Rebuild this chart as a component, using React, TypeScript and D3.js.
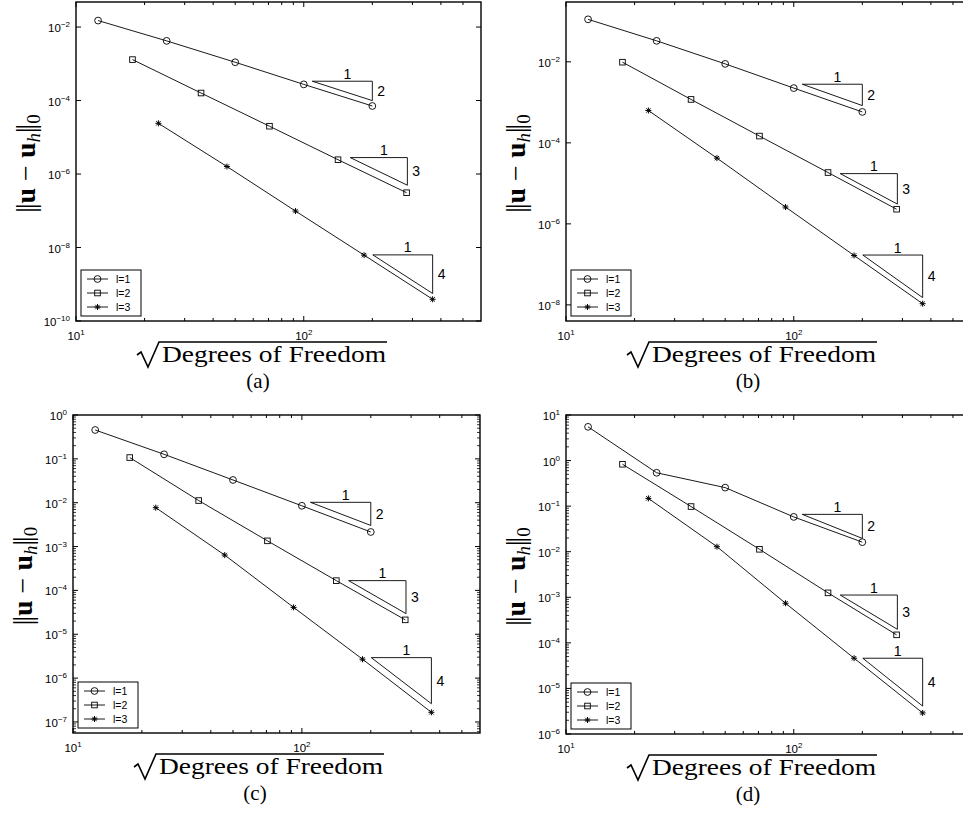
import React from 'react';
import * as d3 from 'd3';

// sqrt(DOF) values per polynomial degree
const xL1 = [12.5, 25, 50, 100, 200];
const xL2 = [17.7, 35.4, 70.7, 141.4, 282.8];
const xL3 = [23, 46, 92, 184, 368];

// error values, panel (a)
const errA1 = [1.5e-2, 4.2e-3, 1.1e-3, 2.75e-4, 7.1e-5];
const errA2 = [1.3e-3, 1.6e-4, 2.0e-5, 2.45e-6, 3.1e-7];
const errA3 = [2.4e-5, 1.6e-6, 9.8e-8, 6.2e-9, 3.9e-10];
// panel (b)
const errB1 = [1.12e-1, 3.3e-2, 8.9e-3, 2.25e-3, 5.8e-4];
const errB2 = [9.8e-3, 1.18e-3, 1.47e-4, 1.85e-5, 2.3e-6];
const errB3 = [6.3e-4, 4.2e-5, 2.6e-6, 1.66e-7, 1.07e-8];
// panel (c)
const errC1 = [0.455, 0.127, 0.033, 8.5e-3, 2.15e-3];
const errC2 = [0.107, 1.12e-2, 1.35e-3, 1.67e-4, 2.13e-5];
const errC3 = [7.7e-3, 6.4e-4, 4.1e-5, 2.7e-6, 1.66e-7];
// panel (d)
const errD1 = [5.5, 0.54, 0.255, 0.058, 0.0162];
const errD2 = [0.83, 0.098, 0.0113, 1.25e-3, 1.5e-4];
const errD3 = [0.148, 0.0129, 7.4e-4, 4.6e-5, 2.9e-6];

const legendLabels = ['l=1', 'l=2', 'l=3'];
const panelLabels = ['(a)', '(b)', '(c)', '(d)'];

// rate triangles
const rateOrders = [2, 3, 4];
const triX0 = [109, 160, 201];
const triX1 = [200, 285, 368];
const triYA = [3.35e-4, 2.8e-6, 6.3e-9];
const triYB = [2.8e-3, 1.74e-5, 1.7e-7];
const triYC = [1.02e-2, 1.67e-4, 2.93e-6];
const triYD = [0.066, 1.12e-3, 4.6e-5];

// axes
const xDomain = [10, 600];
const xMajorTicks = [10, 100];
const xMinorTicks = [20, 30, 40, 50, 60, 70, 80, 90, 200, 300, 400, 500];
const yDomA = [1e-10, 0.048];
const yDomB = [4e-9, 0.30];
const yDomC = [5.6e-8, 1];
const yDomD = [1e-6, 10];
const yTicksA = [1e-10, 1e-8, 1e-6, 1e-4, 1e-2];
const yTicksB = [1e-8, 1e-6, 1e-4, 1e-2];
const yTicksC = [1e-7, 1e-6, 1e-5, 1e-4, 1e-3, 1e-2, 1e-1, 1];
const yTicksD = [1e-6, 1e-5, 1e-4, 1e-3, 1e-2, 1e-1, 1, 10];

const xSeries = [xL1, xL2, xL3];

const panels = [
  { left: 76, top: 2, width: 405, height: 319, minorY: false, yDom: yDomA, yTicks: yTicksA, errs: [errA1, errA2, errA3], triY: triYA },
  { left: 566, top: 2, width: 405, height: 319, minorY: false, yDom: yDomB, yTicks: yTicksB, errs: [errB1, errB2, errB3], triY: triYB },
  { left: 73, top: 415, width: 407, height: 318, minorY: true, yDom: yDomC, yTicks: yTicksC, errs: [errC1, errC2, errC3], triY: triYC },
  { left: 566, top: 415, width: 405, height: 319, minorY: true, yDom: yDomD, yTicks: yTicksD, errs: [errD1, errD2, errD3], triY: triYD },
];

const SANS = "'Liberation Sans', Arial, Helvetica, sans-serif";
const SERIF = "'Liberation Serif', 'Times New Roman', 'DejaVu Serif', serif";

function Marker({ type, x, y }: { type: number; x: number; y: number }) {
  if (type === 0) return <circle cx={x} cy={y} r={3.4} fill="none" stroke="#000" strokeWidth={0.9} />;
  if (type === 1) return <rect x={x - 2.8} y={y - 2.8} width={5.6} height={5.6} fill="none" stroke="#000" strokeWidth={0.9} />;
  const s = 3;
  const d = 2.2;
  return (
    <g stroke="#000" strokeWidth={1}>
      <line x1={x - s} y1={y} x2={x + s} y2={y} />
      <line x1={x} y1={y - s} x2={x} y2={y + s} />
      <line x1={x - d} y1={y - d} x2={x + d} y2={y + d} />
      <line x1={x - d} y1={y + d} x2={x + d} y2={y - d} />
    </g>
  );
}

function Panel({ p, idx }: { p: any; idx: number }) {
  const { left, top, width, height } = p;
  const bottom = top + height;
  const right = left + width;
  const x = d3.scaleLog().domain(xDomain).range([left, right]);
  const y = d3.scaleLog().domain(p.yDom).range([bottom, top]);
  const line = d3.line<[number, number]>().x((d) => x(d[0])).y((d) => y(d[1]));

  const minorY: number[] = [];
  if (p.minorY) {
    const lo = Math.floor(Math.log10(p.yDom[0]));
    const hi = Math.ceil(Math.log10(p.yDom[1]));
    for (let n = lo; n < hi; n++) {
      for (let k = 2; k <= 9; k++) {
        const v = k * Math.pow(10, n);
        if (v > p.yDom[0] && v < p.yDom[1]) minorY.push(v);
      }
    }
  }
  const majL = 5;
  const minL = 3;

  return (
    <g>
      {/* series */}
      {p.errs.map((e: number[], si: number) => {
        const pts = xSeries[si].map((xv, i) => [xv, e[i]] as [number, number]);
        return (
          <g key={si}>
            <path d={line(pts) || ''} fill="none" stroke="#000" strokeWidth={0.9} />
            {pts.map((d, i) => (
              <Marker key={i} type={si} x={x(d[0])} y={y(d[1])} />
            ))}
          </g>
        );
      })}
      {/* triangles */}
      {rateOrders.map((ord, ti) => {
        const x0 = triX0[ti];
        const x1 = triX1[ti];
        const y0 = p.triY[ti];
        const y1 = y0 * Math.pow(x0 / x1, ord);
        const px0 = x(x0), px1 = x(x1), py0 = y(y0), py1 = y(y1);
        return (
          <g key={ti}>
            <path d={`M${px0},${py0}H${px1}V${py1}Z`} fill="none" stroke="#000" strokeWidth={0.9} />
            <text x={(px0 + px1) / 2 + 5} y={py0 - 2.5} fontFamily={SANS} fontSize={14} textAnchor="middle">1</text>
            <text x={px1 + 5} y={(py0 + py1) / 2 + 5} fontFamily={SANS} fontSize={14}>{ord}</text>
          </g>
        );
      })}
      {/* axes box */}
      <rect x={left} y={top} width={width} height={height} fill="none" stroke="#000" strokeWidth={1.4} />
      {/* x ticks */}
      {xMajorTicks.map((v) => (
        <g key={'xM' + v}>
          <line x1={x(v)} x2={x(v)} y1={bottom} y2={bottom - majL} stroke="#000" />
          <line x1={x(v)} x2={x(v)} y1={top} y2={top + majL} stroke="#000" />
          <text x={x(v)} y={bottom + 19} fontFamily={SANS} fontSize={11.5} textAnchor="middle">
            10<tspan dy={-5} fontSize={8}>{Math.round(Math.log10(v))}</tspan>
          </text>
        </g>
      ))}
      {xMinorTicks.map((v) => (
        <g key={'xm' + v}>
          <line x1={x(v)} x2={x(v)} y1={bottom} y2={bottom - minL} stroke="#000" />
          <line x1={x(v)} x2={x(v)} y1={top} y2={top + minL} stroke="#000" />
        </g>
      ))}
      {/* y ticks */}
      {p.yTicks.map((v: number) => {
        const e = Math.round(Math.log10(v));
        return (
          <g key={'yM' + v}>
            <line x1={left} x2={left + majL} y1={y(v)} y2={y(v)} stroke="#000" />
            <line x1={right} x2={right - majL} y1={y(v)} y2={y(v)} stroke="#000" />
            <text x={left - 6} y={y(v) + 5} fontFamily={SANS} fontSize={11.5} textAnchor="end">
              10<tspan dy={-5} fontSize={8}>{e < 0 ? '\u2212' + Math.abs(e) : String(e)}</tspan>
            </text>
          </g>
        );
      })}
      {minorY.map((v) => (
        <g key={'ym' + v}>
          <line x1={left} x2={left + minL} y1={y(v)} y2={y(v)} stroke="#000" strokeWidth={0.8} />
          <line x1={right} x2={right - minL} y1={y(v)} y2={y(v)} stroke="#000" strokeWidth={0.8} />
        </g>
      ))}
      {/* legend */}
      <g>
        <rect x={left + 5} y={bottom - 51} width={60} height={46} fill="#fff" stroke="#000" strokeWidth={1} />
        {legendLabels.map((lab, i) => {
          const ly = bottom - 42 + i * 14;
          return (
            <g key={lab}>
              <line x1={left + 11} x2={left + 32} y1={ly} y2={ly} stroke="#000" strokeWidth={0.9} />
              <Marker type={i} x={left + 21.5} y={ly} />
              <text x={left + 40} y={ly + 4} fontFamily={SANS} fontSize={10.5}>{lab}</text>
            </g>
          );
        })}
      </g>
      {/* y label */}
      <text
        transform={`translate(${left - 41},${top + height / 2 + 2}) rotate(-90)`}
        fontFamily={SERIF}
        fontSize={28}
        textAnchor="middle"
      >
        <tspan letterSpacing={-2}>||</tspan>
        <tspan dx={2} fontWeight="bold">u</tspan>
        <tspan>{' \u2212 '}</tspan>
        <tspan fontWeight="bold">u</tspan>
        <tspan fontStyle="italic" fontSize={19} dy={5}>h</tspan>
        <tspan dy={-5} letterSpacing={-2}>||</tspan>
        <tspan dx={2} fontSize={19} dy={5}>0</tspan>
      </text>
      {/* x label */}
      <path
        d={`M${left + 61},${bottom + 34} l4,-3 l7,15 l11,-25 H${left + 311}`}
        fill="none"
        stroke="#000"
        strokeWidth={1.6}
      />
      <text
        x={left + 86}
        y={bottom + 41}
        fontFamily={SERIF}
        fontSize={23}
        textLength={224}
        lengthAdjust="spacingAndGlyphs"
      >
        Degrees of Freedom
      </text>
      <text x={left + 182} y={bottom + 67} fontFamily={SERIF} fontSize={21} textAnchor="middle">
        {panelLabels[idx]}
      </text>
    </g>
  );
}

export default function App() {
  return (
    <svg
      width={963}
      height={819}
      viewBox="0 0 963 819"
      style={{ position: 'absolute', left: 0, top: 0, background: '#fff' }}
    >
      <rect x={0} y={0} width={963} height={819} fill="#fff" />
      {panels.map((p, i) => (
        <Panel key={i} p={p} idx={i} />
      ))}
    </svg>
  );
}
